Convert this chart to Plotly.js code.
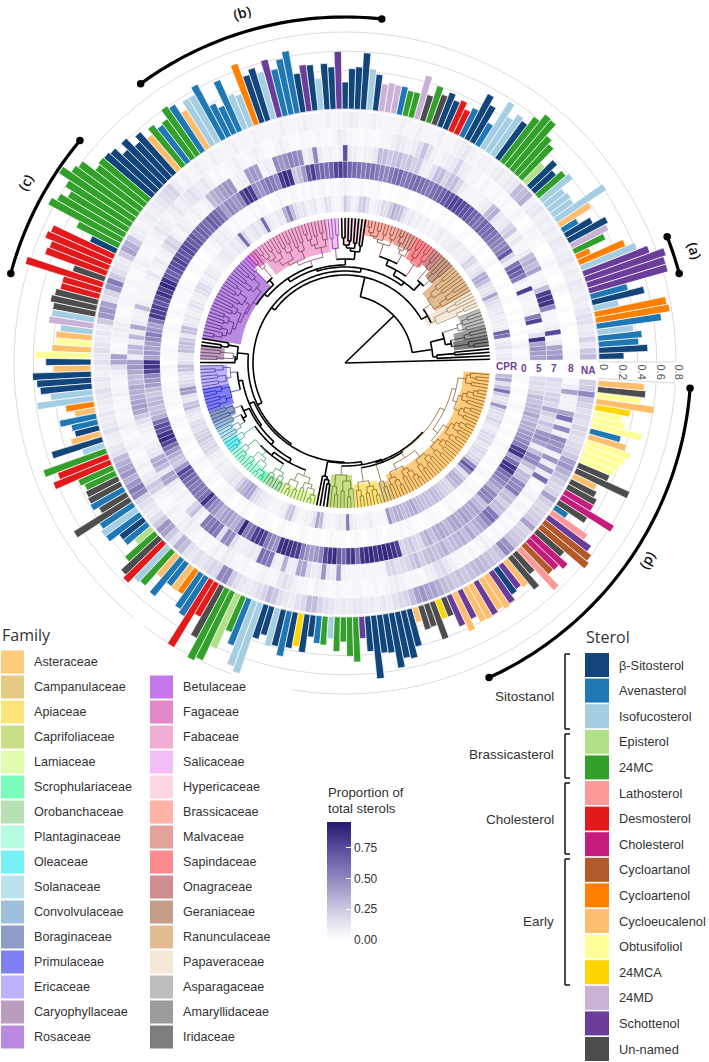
<!DOCTYPE html>
<html><head><meta charset="utf-8">
<script src="https://cdn.plot.ly/plotly-3.0.1.min.js"></script>
<style>html,body{margin:0;padding:0;background:#fff;overflow:hidden}#chart{position:absolute;left:-20px;top:0;width:729px;height:1062px}</style></head>
<body><div id="chart"></div>
<script>
// ---------- sterol legend ----------
const sterolCodes  = ["B","A","I","E","M","L","D","C","Y","O","U","T","F","P","S","N"];
const sterolNames  = ["β-Sitosterol","Avenasterol","Isofucosterol","Episterol","24MC","Lathosterol","Desmosterol","Cholesterol","Cycloartanol","Cycloartenol","Cycloeucalenol","Obtusifoliol","24MCA","24MD","Schottenol","Un-named"];
const sterolColors = ["#12457a","#1f78b4","#a6cee3","#b2df8a","#33a02c","#fb9a99","#e31a1c","#c51b7d","#b15928","#ff7f00","#fdbf6f","#ffff99","#ffd500","#cab2d6","#6a3d9a","#4d4d4d"];
// ---------- bars, counter-clockwise from the gap ----------
const barSterol = ("BBAAIAOOIB"+"ASSSSIOOMP"+"BBAUIIIIIM"+"BBEMMMMMBI"+"IIABBADDBB"+"NMNPMMAPPP"+"BIBBBB"
 +"SBBIBSBAAA"+"SIBBOIIAAA"+"AIIUAMMAMU"+"BBBBBBMMMM"+"MMMMMMBDDDD"+"NDDDNNNIPI"+"UTUTB"
 +"UBBBIIOUAA"+"BUBIMDDMMN"+"NANNAIABAE"+"MNDIMUAAUO"+"AADDNMMEMA"+"IIBBIBABFB"+"BAMIMM"
 +"MMSBBBBBBB"+"BUNNNFNSUS"+"UUSUUSBSUN"+"NLYCCNYYSL"+"ANCCNNUNN"+"TTTTUATTTF"+"UTNU").split("");
const barValuesQ1 = [.26,.51,.42,.46,.38,.68,.78,.76,.27,.56,.40,.85,.85,.88,.73,.62,.52,.16,.36,.43,.46,.32,.19,.39,.62,.26,.27,.25,.41,.37,.30,.38,.27,.47,.52,.67,.68,.59,.48,.51,.43,.57,.27,.44,.53,.33,.28,.35,.32,.38,.33,.40,.28,.47,.27,.27,.30,.30,.31,.29,.38,.43,.59,.44,.42,.28];
const barValuesQ2 = [.60,.44,.48,.33,.48,.49,.41,.66,.59,.50,.62,.51,.57,.52,.67,.36,.39,.58,.32,.38,.64,.56,.56,.47,.58,.61,.50,.48,.54,.47,.57,.50,.62,.53,.63,.65,.66,.64,.80,.83,.93,.80,.72,.80,.86,.49,.30,.71,.74,.66,.68,.35,.84,.42,.42,.46,.49,.45,.45,.47,.34,.38,.38,.41,.58,.47];
const barValuesQ3 = [.39,.61,.57,.54,.44,.59,.30,.22,.39,.28,.26,.32,.55,.24,.69,.56,.64,.39,.35,.37,.38,.39,.33,.68,.41,.44,.43,.31,.31,.22,.41,.53,.57,.49,.47,.30,.49,.30,.31,.30,.44,.48,.81,.40,.61,.83,.79,.62,.40,.52,.72,.77,.37,.31,.41,.39,.48,.38,.35,.40,.23,.29,.30,.23,.36,.26];
const barValuesQ4 = [.41,.47,.23,.37,.66,.40,.41,.58,.49,.51,.40,.16,.26,.25,.41,.21,.21,.35,.44,.33,.40,.41,.40,.38,.41,.39,.33,.31,.34,.43,.28,.57,.41,.42,.48,.37,.64,.61,.55,.45,.16,.35,.63,.34,.34,.30,.27,.61,.35,.38,.40,.44,.48,.41,.33,.54,.34,.30,.37,.61,.46,.50,.48];
// ---------- heat rings (percent of total sterols) ----------
const ringCPR = [12,10,8,15,12,8,60,65,10,8, 10,8,12,10,12,15,20,40,15,12, 15,30,38,35,15,12,10,18,20,10, 8,10,8,12,10,8,8,6,10,8, 6,8,5,8,6,10,8,12,10,15, 28,30,35,25,15,18,12,8,6,15, 25,22,10,8,15,25,8,6,5,12, 15,8,6,12,10,8,14,12,16,30, 55,35,10,12,8,10,12,60,15,10, 15,12,10,18,62,15,10,12,8,10, 12,10,8,6,5,8,10,12,8,10, 15,18,15,10,8,12,14,10,8,12, 10,12,30,28,12,25,30,28,30,12, 12,15,30,28,15,12,15,20,45,42, 15,12,28,30,15,12,10,15,18,15, 20,22,25,20,18,20,15,10,8,6, 10,8,8,10,12,15,12,20,30,35, 40,38,20,15,12,10,8,6,5,5, 8,10,25,28,10,5,5,8,8,15, 40,30,8,6,5,8,12,10,55,10, 8,6,5,6,10,5,5,4,5,45, 30,35,35,30,32,35,38,32,30,28, 30,28,32,30,25,22,20,18,30,35, 35,25,15,50,70,50,22,18,15,18, 15,12,18,15,18,12,10,15,20,15, 15,18,45,15,12,22,60,30,15,40,30];
const ring0 = [5,3,3,8,3,0,3,0,0,3, 0,3,0,0,3,3,0,0,3,0, 0,3,0,0,5,3,0,0,3,0, 3,0,0,3,3,0,0,0,3,0, 3,3,0,0,3,0,3,3,0,0, 3,3,3,0,3,0,0,5,3,3, 3,5,3,3,5,8,5,3,5,3, 5,5,3,5,3,5,3,5,5,3, 3,5,3,3,0,3,5,3,5,3, 3,3,3,5,3,5,8,10,8,10, 5,3,5,3,0,3,0,3,3,0, 0,3,3,5,3,3,3,0,3,5, 3,0,3,5,3,3,0,3,5,3, 3,0,5,3,3,0,3,3,5,3, 3,5,3,0,3,5,3,3,0,3, 5,3,0,3,0,3,5,3,3,0, 3,5,3,0,3,3,5,5,3,0, 3,3,5,3,0,3,3,5,3,3, 0,3,5,3,3,0,3,5,3,0, 3,3,0,3,5,3,3,3,0,3, 5,3,0,3,3,5,3,0,3,3, 3,5,3,5,3,3,0,3,3,5, 3,3,0,3,5,3,3,0,3,3, 5,3,3,0,3,5,3,0,3,3, 0,3,3,5,3,0,3,3,0,3, 3,0,3,5,3,0,3,3,0,3,3];
const ring5 = [40,42,45,40,85,15,5,0,78,55, 8,5,5,5,8,80,5,8,55,65, 70,58,10,20,70,55,50,52,55,58, 62,60,65,58,62,65,70,72,75,78, 78,72,70,65,62,60,55,58,60,62, 60,58,55,62,60,55,50,52,55,60, 58,55,60,62,65,75,80,78,65,60, 62,65,80,70,45,30,25,85,88,82, 50,55,58,52,45,50,80,85,78,50, 45,48,50,42,55,62,65,68,60,62, 65,62,70,68,72,75,70,72,78,75, 72,65,70,85,90,80,85,75,70,78, 80,82,55,40,45,55,50,42,40,45, 40,85,85,78,50,45,42,30,25,30, 32,28,30,35,60,75,72,85,88,78, 60,45,35,28,25,45,75,70,62,60, 55,58,55,60,85,60,50,45,35,40, 42,38,35,45,90,55,60,80,82,78, 55,50,45,85,88,85,82,80,55,45, 42,45,50,78,85,88,70,60,80,85, 60,85,88,90,85,88,90,88,85,80, 20,22,25,20,18,30,35,28,35,38, 35,32,38,40,35,42,38,35,40,32, 28,50,52,50,35,42,50,55,60,85, 85,60,40,85,80,55,50,45,42,35, 35,30,38,32,30,28,30,20,15,18,15];
const ring7 = [45,42,40,10,5,75,8,5,5,5, 50,85,85,80,30,8,5,5,40,30, 35,30,10,5,5,12,8,25,20,12, 10,12,35,30,10,8,5,5,5,6, 10,20,30,28,20,30,28,15,8,10, 25,22,28,25,30,28,25,30,30,12, 8,8,5,8,10,72,8,5,8,6, 10,50,12,8,48,50,52,48,45,50, 8,10,5,42,45,42,8,8,5,45, 45,42,38,35,30,8,5,5,8,5, 5,8,10,5,8,18,22,15,8,5, 10,8,5,12,8,5,5,5,5,8, 30,8,8,10,38,10,32,10,32,28, 10,42,45,38,30,30,38,35,35,40, 42,38,25,15,10,8,5,5,8,10, 12,35,38,30,12,40,38,10,8,5, 8,5,5,20,28,10,5,55,55,60, 55,15,50,48,15,8,8,10,12,10, 60,58,55,10,8,35,10,10,38,40, 15,10,12,45,12,10,45,8,5,5, 5,6,5,5,5,5,18,20,15,18, 20,25,30,22,28,30,28,30,35,28, 30,32,35,30,38,30,35,40,50,60, 55,28,30,22,30,28,55,50,50,30, 30,15,30,50,50,30,10,40,48,45, 20,28,15,22,38,18,22,20,15,15,18];
const ring8 = [3,3,0,0,0,0,3,0,0,3, 0,0,3,5,3,0,3,3,5,3, 0,0,3,3,5,5,3,0,3,5, 3,3,5,3,5,3,3,5,3,5, 5,8,10,20,12,10,8,5,8,15, 28,15,10,8,10,12,8,5,5,3, 3,5,3,3,5,8,10,5,3,3, 5,3,3,5,3,3,5,8,5,3, 3,5,8,5,3,5,8,5,3,3, 5,3,8,12,10,12,15,12,10,8, 12,8,5,8,10,12,8,5,5,3, 3,5,8,5,3,3,5,3,5,5, 5,3,3,5,8,10,8,5,3,5, 40,38,15,8,5,3,5,8,5,3, 5,3,5,8,5,3,5,8,5,3, 5,8,5,10,12,25,22,8,5,3, 5,8,5,5,8,10,8,5,3,5, 3,5,8,5,10,8,5,3,5,3, 3,5,8,5,5,12,15,12,8,5, 5,3,8,5,3,3,5,3,3,5, 5,3,3,5,3,5,8,10,8,5, 5,5,3,8,10,15,18,12,8,5, 5,3,5,3,5,8,5,3,5,3, 5,3,5,3,5,5,3,8,5,3, 3,60,10,45,10,45,8,45,45,50, 8,50,8,60,40,8,8,8,40,8,3];
const ringNA = [30,25,12,20,12,10,15,15,12,8, 10,8,10,12,8,10,8,12,10,8, 10,12,8,10,8,10,8,12,10,8, 35,30,30,12,10,8,10,8,6,8, 8,6,8,12,10,8,6,5,8,6, 5,6,8,5,6,8,5,6,5,6, 8,6,5,8,10,8,6,5,8,6, 5,6,8,6,5,6,8,5,6,5, 6,8,5,6,5,8,6,5,6,8, 5,6,8,6,5,8,6,10,20,18, 15,12,10,8,10,8,6,8,10,25, 35,40,25,10,12,15,25,55,45,20, 15,40,45,45,25,10,12,10,12,15, 12,15,10,8,12,10,15,12,10,8, 12,10,12,15,10,8,12,15,30,35, 40,45,35,45,55,50,20,15,12,10, 15,25,45,40,25,15,35,30,15,12, 15,12,15,20,18,50,50,25,15,12, 10,12,15,20,30,25,15,12,10,15, 18,30,30,20,15,12,10,12,10,12, 12,10,10,8,12,10,15,18,20,28, 40,45,40,40,35,30,28,25,28,25, 28,30,32,30,28,25,28,50,45,28, 25,22,20,40,25,22,20,18,22,40, 20,18,22,28,35,45,40,25,20,18, 15,18,20,15,18,15,20,25,50,25,22];
// ---------- families ----------
const familyNames  = ["Asteraceae","Campanulaceae","Apiaceae","Caprifoliaceae","Lamiaceae","Scrophulariaceae","Orobanchaceae","Plantaginaceae","Oleaceae","Solanaceae","Convolvulaceae","Boraginaceae","Primulaceae","Ericaceae","Caryophyllaceae","Rosaceae","Betulaceae","Fagaceae","Fabaceae","Salicaceae","Hypericaceae","Brassicaceae","Malvaceae","Sapindaceae","Onagraceae","Geraniaceae","Ranunculaceae","Papaveraceae","Asparagaceae","Amaryllidaceae","Iridaceae"];
const familyColors = ["#fdcb7c","#e3cb85","#fee27a","#c9df85","#e2fcb0","#7bfcb8","#b7e0b4","#b6fce0","#76f0f4","#bce2f0","#9fbfdc","#8e9cc8","#8080f2","#bfb2fc","#bb9cbf","#b98ae0","#c678e8","#e088c8","#f0aed2","#f3bdf6","#fdd8e4","#fdb3a8","#e3a29a","#f98b8e","#cf8f92","#c49e88","#e2bb92","#f5e8d6","#bdbdbd","#9b9b9b","#7d7d7d"];
const familyFrom   = [290,285,274,263,243,233,236,218,213,208,205,200,190,181,173,134,131.5,128,97.3,93,82,68,60,52,47.5,42,29.7,23.6,15,11,6.5];
const familyTo     = [356,290,285,273.5,258.5,236,243,233,218,213,208,205,200,190,178.5,170,134,131.5,128,97,90,82,68,60,52,47.5,42,29.7,22,15,11];
const familyInner  = [119,125,122,112,134,134,134,133,130,128,125,120,118,118,121,106,131,128,112,114,120,129,128,121,125,118,104,91,122,112,110];
const familyLine   = ["#7a4b05","#6b5416","#6f5f08","#4d6a10","#4f6f10","#0a7a40","#1a7a3a","#138a60","#0c8c8c","#2c6d8a","#2c5880","#27406f","#1512b0","#3a2a8a","#5a2a55","#3d1470","#7a10a0","#7a1050","#7a2a55","#6a2a90","#555555","#7a2a20","#6b2a20","#90141c","#6a2020","#5a3010","#7a5520","#8a7a55","#444444","#222222","#111111"];
// ---------- tree: [node radius, child, child...], 0 = a tip ----------
const tint=(n,name)=>{n.color=familyLine[familyNames.indexOf(name)];return n;};
const iris=tint([125,[130,0,0],0],"Iridaceae"), amar=tint([122,0,[128,0,0]],"Amaryllidaceae"), aspa=tint([118,[126,0,0],[124,0,[130,0,0]]],"Asparagaceae");
const pap=tint([100,[122,0,[130,0,0]],[115,0,[125,0,0]]],"Papaveraceae");
const ran=tint([104,[112,0,[120,0,[130,0,0]]],[110,[120,0,0],[118,0,[128,0,0]]]],"Ranunculaceae");
const gera=tint([118,[128,0,0],[125,0,0]],"Geraniaceae"), onag=tint([125,0,[132,0,0]],"Onagraceae");
const sapi=tint([120,[128,0,[135,0,0]],[126,0,[134,0,0]]],"Sapindaceae");
const malv=tint([122,[130,0,0],[126,0,[132,0,[138,0,0]]]],"Malvaceae");
const bras=tint([125,[132,0,[136,0,0]],[128,[134,0,0],[130,[136,0,0],[133,0,[138,0,0]]]]],"Brassicaceae");
const hyp=[112,[118,0,0],[115,[120,0,0],[118,[122,0,0],[125,0,0]]]];
const sali=tint([115,[128,0,0],[125,0,0]],"Salicaceae");
const fab=tint([108,[118,[125,0,[132,0,0]],[122,[130,0,0],[128,0,[134,0,0]]]],[112,[120,[128,0,0],[125,0,0]],[116,[124,[132,0,0],[130,0,0]],[122,[128,0,0],[126,[134,0,0],[130,0,[136,0,0]]]]]]],"Fabaceae");
const fag=tint([125,0,[132,0,0]],"Fagaceae"), bet=tint([128,0,0],"Betulaceae");
const ros=tint([110,[116,[124,0,[130,0,0]],[120,[128,0,0],0]],[112,[118,[126,[132,0,0],[130,0,0]],[122,0,0]],[115,[120,[126,0,0],[124,0,0]],[118,[124,[130,0,0],[128,0,0]],[122,[128,0,0],[126,0,[134,0,0]]]]]]],"Rosaceae");
const cary=tint([112,[125,0,0],[128,0,0]],"Caryophyllaceae");
const eric=tint([115,[122,0,[130,0,0]],[120,[128,0,0],[128,0,0]]],"Ericaceae"), prim=tint([118,[126,0,[132,0,0]],[124,[130,0,0],[132,0,0]]],"Primulaceae");
const bor=tint([120,[128,0,0],[126,0,0]],"Boraginaceae"), conv=tint([125,0,0],"Convolvulaceae"), sol=tint([122,[130,0,0],[128,0,0]],"Solanaceae"), ole=tint([124,0,[132,0,[136,0,0]]],"Oleaceae");
const plan=tint([118,[128,0,[134,0,[138,0,0]]],[124,[132,0,[138,0,0]],[128,0,[136,[140,0,0],[140,0,0]]]]],"Plantaginaceae");
const oro=tint([126,[132,0,[136,0,0]],[130,0,[136,0,0]]],"Orobanchaceae");
const lam=tint([120,[128,[134,0,[138,0,0]],[136,0,0]],[126,[132,0,0],[130,0,[136,[140,0,0],0]]]],"Lamiaceae");
const capr=tint([112,[124,0,[132,0,0]],[118,[128,0,0],[126,[134,0,0],0]]],"Caprifoliaceae");
const api=tint([120,[128,0,[134,0,0]],[126,[132,0,0],[130,0,[136,0,0]]]],"Apiaceae"), camp=tint([124,0,[130,0,0]],"Campanulaceae");
const A1=[118,[124,[130,0,0],[128,0,[134,0,0]]],[122,[128,0,0],[126,0,[132,0,[136,0,0]]]]];
const A2=[120,[126,0,[132,0,0]],[124,[130,0,0],[128,0,0]]];
const A3=[122,[128,0,[134,0,0]],[126,[132,0,0],[130,0,[136,0,0]]]];
const A4=[122,[128,0,0],[126,[132,0,0],0]];
const ast=tint([105,[112,A1,A2],[110,[116,A2,A3],[114,A1,A4]]],"Asteraceae");
const monocots=[88,[92,0,[110,0,0]],[102,[108,iris,amar],aspa]];
const eudicots=[88,[95,pap,ran],[92,
     [96,[100,[110,gera,onag],[106,sapi,[112,malv,bras]]],
         [98,[104,hyp,sali],[102,fab,[106,[112,fag,bet],ros]]]],
     [97,[108,[118,0,[125,0,0]],[110,cary,0]],
         [99,[104,[108,eric,prim],[106,[112,bor,[116,conv,sol]],[110,ole,[114,[118,plan,oro],lam]]]],
             [100,[115,0,[118,0,[122,0,0]]],[103,capr,[106,api,[104,camp,ast]]]]]]]];
eudicots.nodeAngle=77;
const crown=[68,monocots,eudicots]; crown.nodeAngle=44;
const tree=[0,0,crown];

// ---------- geometry of the drawing (px radii from the centre) ----------
const barZero=254, barScale=96.25, tipR=145, firstAngle=1.5, pitch=(355.4-1.5)/260;
const ringBase=[151,168,185,202,218,235], ringWidth=16.7;
const angles=barSterol.map((_,i)=>firstAngle+i*pitch);
const barValues=[...barValuesQ1,...barValuesQ2,...barValuesQ3,...barValuesQ4];
const heatScale=[[0,"#ffffff"],[.1,"#eeedf5"],[.26,"#cdc9e2"],[.52,"#9088bf"],[.78,"#5a4a9c"],[1,"#211a6e"]];
const pageShift=20, W=729, H=1062;
const traces=[];
// white gaps in the grid
const gapTheta=[358.3,255.4,231.4], gapWidth=[4,10.8,2.4], gapBase=[250,328,328], gapLen=[84,6,6];
traces.push({type:"barpolar",theta:gapTheta,width:gapWidth,base:gapBase,r:gapLen,marker:{color:"#fff",line:{width:0}},hoverinfo:"skip"});
// family wedges
traces.push({type:"barpolar",theta:familyFrom.map((a,i)=>(a+familyTo[i])/2),width:familyFrom.map((a,i)=>familyTo[i]-a),
  base:familyInner,r:familyInner.map(v=>tipR-v),marker:{color:familyColors,line:{width:0}},hoverinfo:"skip"});
// heat rings
[ringCPR,ring0,ring5,ring7,ring8,ringNA].forEach((vals,k)=>{
  const t={type:"barpolar",theta:angles,width:angles.map(()=>pitch),base:angles.map(()=>ringBase[k]),r:angles.map(()=>ringWidth),
    marker:{color:vals.map(v=>v/100),colorscale:heatScale,cmin:0,cmax:.96,line:{width:.25,color:"#fff"}},hoverinfo:"skip"};
  if(k===0){t.marker.showscale=true;t.marker.colorbar={x:(327+pageShift)/W,xanchor:"left",y:1-822/H,yanchor:"top",len:118,lenmode:"pixels",thickness:24,thicknessmode:"pixels",
    outlinewidth:0,ticks:"inside",ticklen:5,tickcolor:"#fff",tickwidth:1,tickvals:[0,.25,.5,.75],ticktext:["0.00","0.25","0.50","0.75"],
    tickfont:{size:12,color:"#333",family:"Liberation Sans"},xpad:0,ypad:0,title:{text:"",side:"top"}};}
  traces.push(t);
});
// sterol bars
traces.push({type:"barpolar",theta:angles,width:angles.map(()=>pitch),base:angles.map(()=>barZero),r:barValues.map(v=>v*barScale),
  marker:{color:barSterol.map(c=>sterolColors[sterolCodes.indexOf(c)]),line:{width:.7,color:"#fff"}},hoverinfo:"skip"});
// axis edges beside the gap
traces.push({type:"scatterpolar",mode:"lines",r:[barZero,barZero+.8*barScale,null,barZero,barZero+.8*barScale],theta:[.2,.2,null,356.5,356.5],line:{color:"#d9d9d9",width:1},hoverinfo:"skip"});
// tree
const segs={}; let tipIndex=0;
const add=(c,rs,ths)=>{const s=segs[c]||(segs[c]={r:[],t:[]});s.r.push(...rs,null);s.t.push(...ths,null);};
function walk(n,color){
  if(n===0){return firstAngle+(tipIndex++)*pitch;}
  const c=n.color||color, r=n[0], kids=n.slice(1), th=[];
  kids.forEach(k=>{const kc=(k&&k.color)||c; const a=walk(k,c); th.push(a);
    add(kc,[r,k===0?tipR:k[0]],[a,a]);});
  const a0=th[0],a1=th[th.length-1];
  if(r>0){const m=Math.max(2,Math.ceil((a1-a0)/1.5)),R=[],T=[];for(let i=0;i<=m;i++){R.push(r);T.push(a0+(a1-a0)*i/m);}add(c,R,T);}
  return n.nodeAngle!==undefined?n.nodeAngle:(a0+a1)/2;
}
walk(tree,"#000000");
Object.keys(segs).forEach(c=>traces.push({type:"scatterpolar",mode:"lines",r:segs[c].r,theta:segs[c].t,
  line:{color:c,width:c==="#000000"?1.6:.7},connectgaps:false,hoverinfo:"skip"}));
// outer clade arcs
const cladeNames=["(a)","(b)","(c)","(d)"], cladeFrom=[15,83.9,140,294.6], cladeTo=[21.4,126.2,165,355.8], cladeR=346;
cladeNames.forEach((_,i)=>{const T=[],R=[],m=Math.ceil(cladeTo[i]-cladeFrom[i]);for(let j=0;j<=m;j++){T.push(cladeFrom[i]+(cladeTo[i]-cladeFrom[i])*j/m);R.push(cladeR);}
  traces.push({type:"scatterpolar",mode:"lines",r:R,theta:T,line:{color:"#000",width:3.2},hoverinfo:"skip"});
  traces.push({type:"scatterpolar",mode:"markers",r:[cladeR,cladeR],theta:[cladeFrom[i],cladeTo[i]],marker:{color:"#000",size:7.5},hoverinfo:"skip"});
});
// ---------- annotations and legends ----------
const sans="Liberation Sans", head="Open Sans";
const ann=[];
const px=x=>(x+pageShift)/W;
const note=(x,y,text,size,o={})=>ann.push(Object.assign({xref:"paper",yref:"paper",x:px(x),y:1-y/H,text,showarrow:false,xanchor:"left",yanchor:"middle",borderpad:0,
  font:{size,family:sans,color:"#333"}},o));
const shapes=[];
const box=(x0,y0,x1,y1,c)=>shapes.push({type:"rect",xref:"paper",yref:"paper",x0:px(x0),x1:px(x1),y0:1-y1/H,y1:1-y0/H,fillcolor:c,line:{width:0}});
const seg=(x0,y0,x1,y1)=>shapes.push({type:"line",xref:"paper",yref:"paper",x0:px(x0),x1:px(x1),y0:1-y0/H,y1:1-y1/H,line:{color:"#000",width:1.4}});
note(1,635,"Family",16,{font:{size:16,family:head,color:"#333"}});
familyNames.forEach((n,i)=>{const col=i<=15?0:1, row=col===0?i:i-15;
  const cy=662+25*row, x=col?150:1; box(x,cy-11.5,x+23,cy+11.5,familyColors[i]); note(x+32,cy,n,12.6);});
note(585,637,"Sterol",16,{font:{size:16,family:head,color:"#333"}});
sterolNames.forEach((n,i)=>{const cy=665+25.6*i; box(585,cy-12,609,cy+12,sterolColors[i]); note(618,cy,n,12.8);});
const groupNames=["Sitostanol","Brassicasterol","Cholesterol","Early"], groupTop=[654,734,783,859], groupBottom=[729,778,854,985], groupMid=[696,754,819,921];
groupNames.forEach((n,i)=>{seg(565,groupTop[i],565,groupBottom[i]);seg(565,groupTop[i],570,groupTop[i]);seg(565,groupBottom[i],570,groupBottom[i]);
  note(555,groupMid[i],n,13.5,{xanchor:"right"});});
note(327,792,"Proportion of",13.2); note(327,808,"total sterols",13.2);
const ringLabels=["CPR","0","5","7","8","NA"], ringLabelX=[507,524,539,554,571,588], ringLabelY=[367,368,368,368,369,370];
ringLabels.forEach((t,i)=>note(ringLabelX[i],ringLabelY[i],t,10,{xanchor:"center",font:{size:10,family:sans,color:"#6a3d9a",weight:700}}));
const axisTicks=["0","0.2","0.4","0.6","0.8"], axisTickX=[604,623,642,661,679];
axisTicks.forEach((t,i)=>note(axisTickX[i],363,t,11,{xanchor:"center",yanchor:"top",textangle:90,font:{size:11,family:sans,color:"#555"}}));
const cladeLabelX=[695,242,25,650], cladeLabelY=[250,12,182,562], cladeLabelAngle=[72,-16,-60,121];
cladeNames.forEach((t,i)=>note(cladeLabelX[i],cladeLabelY[i],t,14,{xanchor:"center",textangle:cladeLabelAngle[i],font:{size:14,family:head,color:"#111",weight:600}}));

const R=360, cx=345+pageShift, cy=363;
const layout={width:W,height:H,margin:{l:0,r:0,t:0,b:0},paper_bgcolor:"#fff",showlegend:false,
  polar:{domain:{x:[(cx-R)/W,(cx+R)/W],y:[1-(cy+R)/H,1-(cy-R)/H]},barmode:"overlay",bgcolor:"rgba(0,0,0,0)",
    angularaxis:{visible:false,direction:"counterclockwise",rotation:0,thetaunit:"degrees"},
    radialaxis:{visible:true,range:[0,R],showline:false,showticklabels:false,ticks:"",showgrid:true,gridcolor:"#dcdcdc",gridwidth:1,
      tickmode:"array",tickvals:[0,.2,.4,.6,.8].map(v=>barZero+v*barScale)}},
  annotations:ann,shapes:shapes};
Plotly.newPlot("chart",traces,layout,{displayModeBar:false,responsive:false});
</script></body></html>
